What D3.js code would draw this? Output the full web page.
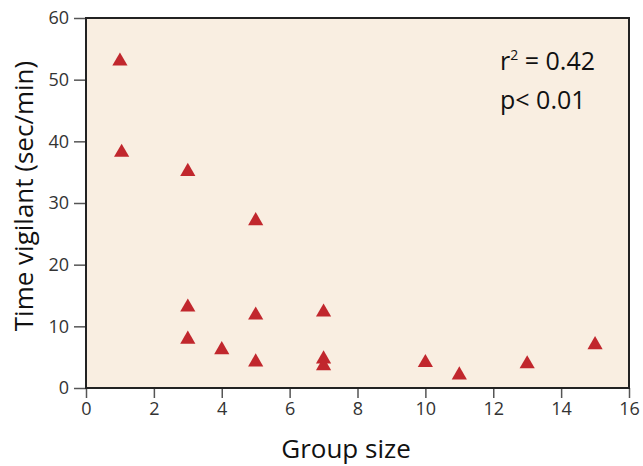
<!DOCTYPE html>
<html lang="en">
<head>
  <meta charset="UTF-8">
  <title>Group size vs time vigilant</title>
  <script src="https://cdn.jsdelivr.net/npm/d3@7"></script>
  <style>
    body { margin: 0; background: #fff; }
    .axis text { font-family: "Open Sans", sans-serif; font-size: 18px; fill: #333; }
    .axis line { stroke: #555; stroke-width: 1.5; }
    .axis path { display: none; }
    .title { font-family: "Open Sans", sans-serif; font-size: 26px; fill: #111; }
    .note { font-family: "Open Sans", sans-serif; font-size: 25px; fill: #111; }
  </style>
</head>
<body>
<svg width="643" height="466"></svg>
<script>
  // group size and time vigilant (sec/min)
  const groupSize = [1, 1.05, 3, 5, 3, 3, 4, 5, 5, 7, 7, 7, 10, 11, 13, 15];
  const vigilant  = [53, 38.2, 35.1, 27.1, 13.1, 7.9, 6.2, 11.8, 4.2, 12.3, 4.7, 3.6, 4.1, 2.1, 3.9, 7.0];
  const xTicks = [0, 2, 4, 6, 8, 10, 12, 14, 16];
  const yTicks = [0, 10, 20, 30, 40, 50, 60];

  const svg = d3.select('svg');
  const margin = { top: 18, right: 14, bottom: 78, left: 86 };
  const W = +svg.attr('width'), H = +svg.attr('height');

  const x = d3.scaleLinear().domain([0, 16]).range([margin.left, W - margin.right]);
  const y = d3.scaleLinear().domain([0, 60]).range([H - margin.bottom, margin.top]);

  // plot background
  svg.append('rect')
    .attr('x', x(0)).attr('y', y(60))
    .attr('width', x(16) - x(0)).attr('height', y(0) - y(60))
    .attr('fill', '#f9eee1');

  svg.append('g')
    .attr('class', 'axis')
    .attr('transform', `translate(0,${y(0)})`)
    .call(d3.axisBottom(x).tickValues(xTicks).tickSize(10).tickPadding(4).tickSizeOuter(0));

  svg.append('g')
    .attr('class', 'axis')
    .attr('transform', `translate(${x(0)},0)`)
    .call(d3.axisLeft(y).tickValues(yTicks).tickSize(12).tickPadding(5).tickSizeOuter(0));

  // frame
  svg.append('rect')
    .attr('x', x(0)).attr('y', y(60))
    .attr('width', x(16) - x(0)).attr('height', y(0) - y(60))
    .attr('fill', 'none').attr('stroke', '#222').attr('stroke-width', 2);

  const tri = d3.symbol().type(d3.symbolTriangle).size(100);
  svg.append('g').selectAll('path')
    .data(groupSize.map((g, i) => [g, vigilant[i]]))
    .join('path')
    .attr('d', tri)
    .attr('transform', d => `translate(${x(d[0])},${y(d[1])})`)
    .attr('fill', '#c1272d');

  svg.append('text').attr('class', 'title')
    .attr('x', 346).attr('y', 458)
    .attr('text-anchor', 'middle').text('Group size');

  svg.append('text').attr('class', 'title')
    .attr('transform', 'translate(33,196) rotate(-90)')
    .attr('text-anchor', 'middle').text('Time vigilant (sec/min)');

  const note = svg.append('text').attr('class', 'note').attr('x', 500).attr('y', 70);
  note.append('tspan').text('r');
  note.append('tspan').attr('font-size', 14).attr('dy', -10).text('2');
  note.append('tspan').attr('dy', 10).text(' = 0.42');
  svg.append('text').attr('class', 'note').attr('x', 500).attr('y', 109).text('p< 0.01');
</script>
</body>
</html>
